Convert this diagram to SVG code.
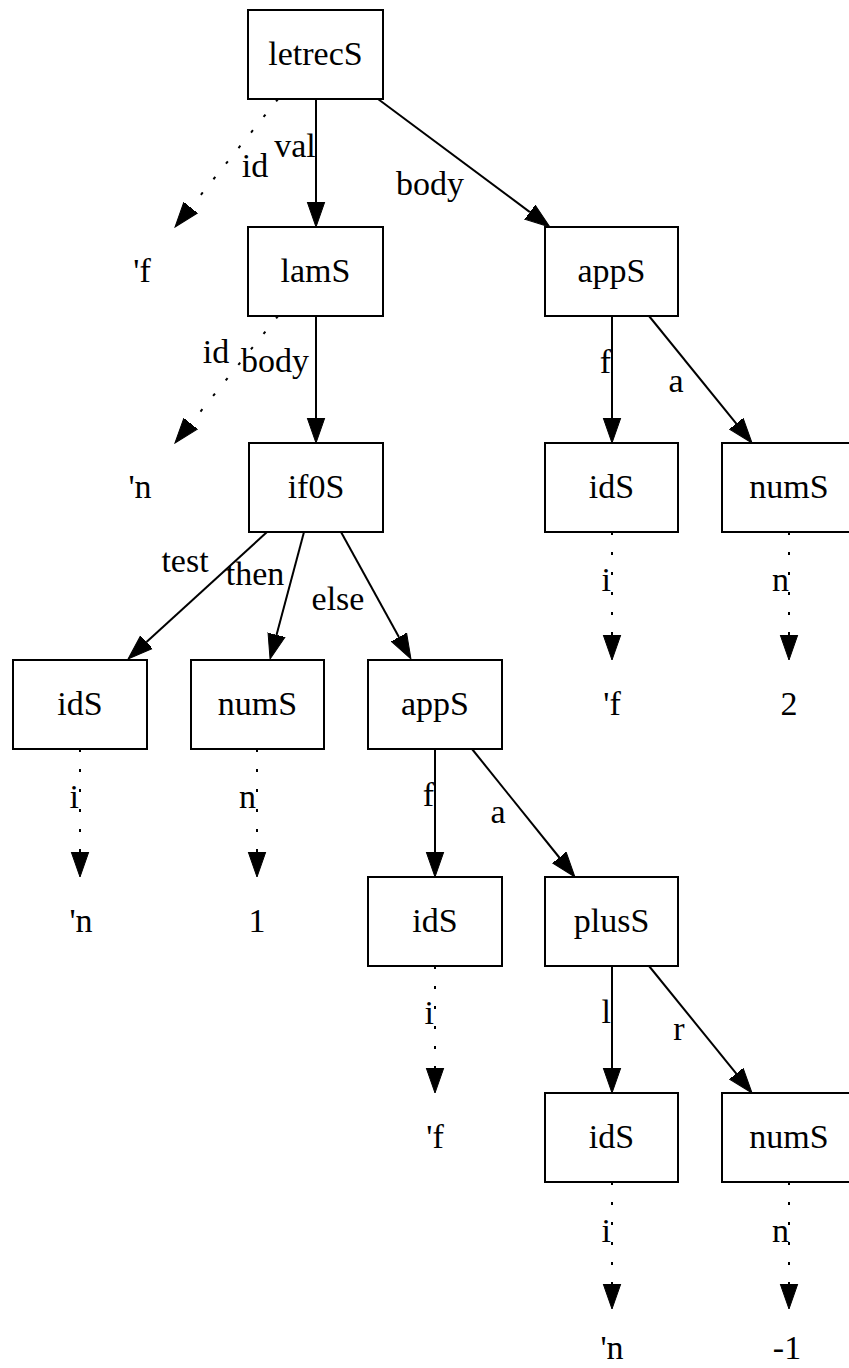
<svg xmlns="http://www.w3.org/2000/svg" width="849" height="1368" viewBox="0 0 849 1368">
<style>
text{font-family:"Liberation Serif","Times New Roman","DejaVu Serif",serif;font-size:34px;fill:#000}
.n text,.leaf{text-anchor:middle}
.n rect{fill:#fff;stroke:#000;stroke-width:2}
.e line{stroke:#000;stroke-width:2}
.e .d{stroke-dasharray:3,17}
.lbl{text-anchor:middle}
.lr{text-anchor:end}
</style>
<defs>
<marker id="ah" markerUnits="userSpaceOnUse" markerWidth="26" markerHeight="20" viewBox="0 0 26 20" refX="0" refY="10" orient="auto">
<path d="M0,1.25 L25,10 L0,18.75 Z" fill="#000" stroke="#000" stroke-width="1"/>
</marker>
</defs>
<rect width="849" height="1368" fill="#fff"/>
<g id="edges" class="e">
<line class="d" x1="278" y1="99" x2="190.7" y2="207.5" marker-end="url(#ah)"/>
<line x1="316" y1="99" x2="316" y2="202" marker-end="url(#ah)"/>
<line x1="378" y1="99" x2="529.9" y2="212.1" marker-end="url(#ah)"/>
<line class="d" x1="278" y1="316" x2="190.7" y2="423.6" marker-end="url(#ah)"/>
<line x1="316" y1="316" x2="316" y2="418" marker-end="url(#ah)"/>
<line x1="267" y1="532" x2="146.5" y2="642.1" marker-end="url(#ah)"/>
<line x1="304" y1="532" x2="276.5" y2="634.9" marker-end="url(#ah)"/>
<line x1="341" y1="532" x2="398.9" y2="637.1" marker-end="url(#ah)"/>
<line x1="612" y1="316" x2="612" y2="418" marker-end="url(#ah)"/>
<line x1="649" y1="316" x2="736.3" y2="423.6" marker-end="url(#ah)"/>
<line class="d" x1="612" y1="532" x2="612" y2="635" marker-end="url(#ah)"/>
<line class="d" x1="789" y1="532" x2="789" y2="635" marker-end="url(#ah)"/>
<line class="d" x1="80" y1="749" x2="80" y2="852" marker-end="url(#ah)"/>
<line class="d" x1="257" y1="749" x2="257" y2="852" marker-end="url(#ah)"/>
<line x1="435" y1="749" x2="435" y2="852" marker-end="url(#ah)"/>
<line x1="472" y1="749" x2="559.3" y2="857.5" marker-end="url(#ah)"/>
<line class="d" x1="435" y1="966" x2="435" y2="1068" marker-end="url(#ah)"/>
<line x1="612" y1="966" x2="612" y2="1068" marker-end="url(#ah)"/>
<line x1="649" y1="966" x2="736.3" y2="1073.6" marker-end="url(#ah)"/>
<line class="d" x1="612" y1="1182" x2="612" y2="1284" marker-end="url(#ah)"/>
<line class="d" x1="789" y1="1182" x2="789" y2="1284" marker-end="url(#ah)"/>
<text class="lbl" x="295" y="157">val</text>
<text class="lbl" x="255" y="177">id</text>
<text class="lbl" x="430" y="195">body</text>
<text class="lbl" x="216" y="363">id</text>
<text class="lbl" x="275" y="372">body</text>
<text class="lbl" x="185" y="572">test</text>
<text class="lbl" x="255" y="585">then</text>
<text class="lbl" x="338" y="610">else</text>
<text class="lr" x="611" y="373">f</text>
<text class="lbl" x="676" y="392">a</text>
<text class="lr" x="611" y="591">i</text>
<text class="lr" x="789" y="591">n</text>
<text class="lr" x="79" y="808">i</text>
<text class="lr" x="256" y="808">n</text>
<text class="lr" x="434" y="806">f</text>
<text class="lbl" x="498" y="823">a</text>
<text class="lr" x="434" y="1024">i</text>
<text class="lr" x="611" y="1023">l</text>
<text class="lbl" x="679" y="1040">r</text>
<text class="lr" x="611" y="1242">i</text>
<text class="lr" x="789" y="1242">n</text>
</g>
<g id="letrecS" class="n"><rect x="248" y="10" width="135" height="89"/><text x="315.5" y="65">letrecS</text></g>
<g id="leaf_f1" class="n"><text x="142" y="282">'f</text></g>
<g id="lamS" class="n"><rect x="248" y="227" width="135" height="89"/><text x="315.5" y="282">lamS</text></g>
<g id="appS1" class="n"><rect x="545" y="227" width="133" height="89"/><text x="611.5" y="282">appS</text></g>
<g id="leaf_n1" class="n"><text x="140" y="498">'n</text></g>
<g id="if0S" class="n"><rect x="249" y="443" width="134" height="89"/><text x="316" y="498">if0S</text></g>
<g id="idS1" class="n"><rect x="545" y="443" width="133" height="89"/><text x="611.5" y="498">idS</text></g>
<g id="numS1" class="n"><rect x="722" y="443" width="134" height="89"/><text x="789" y="498">numS</text></g>
<g id="idS2" class="n"><rect x="13" y="660" width="134" height="89"/><text x="80" y="715">idS</text></g>
<g id="numS2" class="n"><rect x="191" y="660" width="133" height="89"/><text x="257.5" y="715">numS</text></g>
<g id="appS2" class="n"><rect x="368" y="660" width="134" height="89"/><text x="435" y="715">appS</text></g>
<g id="leaf_f2" class="n"><text x="612" y="715">'f</text></g>
<g id="leaf_2" class="n"><text x="789" y="715">2</text></g>
<g id="leaf_n2" class="n"><text x="81" y="932">'n</text></g>
<g id="leaf_1" class="n"><text x="257" y="932">1</text></g>
<g id="idS3" class="n"><rect x="368" y="877" width="134" height="89"/><text x="435" y="932">idS</text></g>
<g id="plusS" class="n"><rect x="545" y="877" width="133" height="89"/><text x="611.5" y="932">plusS</text></g>
<g id="leaf_f3" class="n"><text x="435" y="1148">'f</text></g>
<g id="idS4" class="n"><rect x="545" y="1093" width="133" height="89"/><text x="611.5" y="1148">idS</text></g>
<g id="numS4" class="n"><rect x="722" y="1093" width="134" height="89"/><text x="789" y="1148">numS</text></g>
<g id="leaf_n3" class="n"><text x="612" y="1359">'n</text></g>
<g id="leaf_m1" class="n"><text x="787" y="1359">-1</text></g>
</svg>
